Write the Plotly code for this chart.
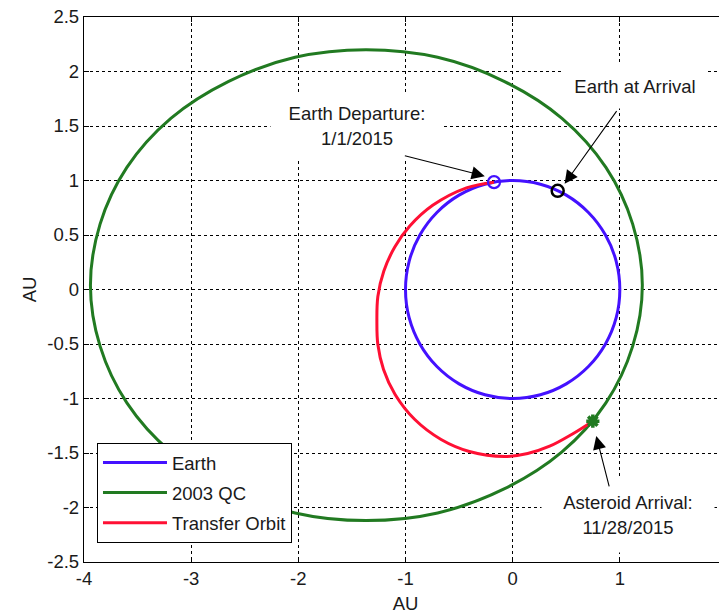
import plotly.graph_objects as go

# ---- data (AU) ----
earth_x = [1.0, 0.966, 0.866, 0.707, 0.5, 0.259, 0.0, -0.259, -0.5, -0.707, -0.866, -0.966,
           -1.0, -0.966, -0.866, -0.707, -0.5, -0.259, 0.0, 0.259, 0.5, 0.707, 0.866, 0.966, 1.0]
earth_y = [0.0, 0.259, 0.5, 0.707, 0.866, 0.966, 1.0, 0.966, 0.866, 0.707, 0.5, 0.259,
           0.0, -0.259, -0.5, -0.707, -0.866, -0.966, -1.0, -0.966, -0.866, -0.707, -0.5, -0.259, 0.0]

qc_x = [1.21, 1.12, 0.87, 0.46, -0.08, -0.70, -1.37, -2.03, -2.65, -3.19, -3.60, -3.85,
        -3.94, -3.85, -3.60, -3.19, -2.65, -2.03, -1.37, -0.70, -0.08, 0.46, 0.87, 1.12, 1.21]
qc_y = [0.04, 0.60, 1.12, 1.57, 1.91, 2.13, 2.20, 2.13, 1.91, 1.57, 1.12, 0.60,
        0.04, -0.52, -1.04, -1.49, -1.83, -2.05, -2.12, -2.05, -1.83, -1.49, -1.04, -0.52, 0.04]

transfer_x = [-0.174, -0.431, -0.746, -0.960, -1.100, -1.202, -1.258, -1.267, -1.258, -1.205,
              -1.097, -0.913, -0.668, -0.404, -0.075, 0.140, 0.345, 0.55, 0.748]
transfer_y = [0.985, 0.932, 0.772, 0.582, 0.390, 0.169, -0.064, -0.294, -0.505, -0.734,
              -0.963, -1.193, -1.376, -1.486, -1.532, -1.505, -1.438, -1.33, -1.208]

departure_pt = (-0.174, 0.985)
earth_arrival_pt = (0.42, 0.905)
asteroid_arrival_pt = (0.748, -1.208)

x_ticks = [-4, -3, -2, -1, 0, 1, 2]
y_ticks = [-2.5, -2, -1.5, -1, -0.5, 0, 0.5, 1, 1.5, 2, 2.5]
y_tick_text = ["-2.5", "-2", "-1.5", "-1", "-0.5", "0", "0.5", "1", "1.5", "2", "2.5"]

# ---- styles ----
C_EARTH = "#4411ff"
C_QC = "#217a21"
C_TRANSFER = "#ff1034"
FONT = "Liberation Sans, Arial, sans-serif"
FS = 18.5
TXT = "#1a1a1a"

fig = go.Figure()
fig.add_trace(go.Scatter(x=earth_x, y=earth_y, mode="lines", name="Earth", legendgroup="g1",
                         line=dict(color=C_EARTH, width=3, shape="spline")))
fig.add_trace(go.Scatter(x=qc_x, y=qc_y, mode="lines", name="2003 QC", legendgroup="g2",
                         line=dict(color=C_QC, width=3, shape="spline")))
fig.add_trace(go.Scatter(x=transfer_x, y=transfer_y, mode="lines", name="Transfer Orbit", legendgroup="g3",
                         line=dict(color=C_TRANSFER, width=3, shape="spline")))

fig.add_trace(go.Scatter(x=[departure_pt[0]], y=[departure_pt[1]], mode="markers", showlegend=False,
                         marker=dict(symbol="circle-open", size=12, color=C_EARTH, line=dict(width=2.2, color=C_EARTH))))
fig.add_trace(go.Scatter(x=[earth_arrival_pt[0]], y=[earth_arrival_pt[1]], mode="markers", showlegend=False,
                         marker=dict(symbol="circle-open", size=12, color="black", line=dict(width=2.5, color="black"))))
fig.add_trace(go.Scatter(x=[asteroid_arrival_pt[0]], y=[asteroid_arrival_pt[1]], mode="markers", showlegend=False,
                         marker=dict(symbol="asterisk-open", size=11, color=C_QC, line=dict(width=3.5, color=C_QC))))

annotations = []
# text boxes (white background hides grid)
annotations.append(dict(x=-1.45, y=1.50, xref="x", yref="y", text="Earth Departure:<br>1/1/2015",
                        showarrow=False, bgcolor="white", width=170, height=62, align="center",
                        font=dict(family=FONT, size=FS, color=TXT)))
annotations.append(dict(x=1.137, y=1.87, xref="x", yref="y", text="Earth at Arrival",
                        showarrow=False, bgcolor="white", width=140, height=42, align="center",
                        font=dict(family=FONT, size=FS, color=TXT)))
annotations.append(dict(x=1.072, y=-2.07, xref="x", yref="y", text="Asteroid Arrival:<br>11/28/2015",
                        showarrow=False, bgcolor="white", width=170, height=72, align="center",
                        font=dict(family=FONT, size=FS, color=TXT)))
# arrows
arrow_style = dict(showarrow=True, arrowhead=2, arrowsize=2.4, arrowwidth=1.1, arrowcolor="black",
                   text="", xref="x", yref="y", axref="x", ayref="y", standoff=0, startstandoff=0)
annotations.append(dict(x=-0.26, y=1.04, ax=-1.02, ay=1.23, **arrow_style))
annotations.append(dict(x=0.485, y=0.97, ax=0.98, ay=1.65, **arrow_style))
annotations.append(dict(x=0.78, y=-1.345, ax=0.904, ay=-1.82, **arrow_style))

axis_common = dict(
    showgrid=True, gridcolor="black", gridwidth=1, griddash="3px,3px",
    zeroline=False, showline=True, linecolor="black", linewidth=1.3,
    ticks="inside", ticklen=5, tickwidth=1, tickcolor="black",
    tickfont=dict(family=FONT, size=FS, color=TXT),
    ticklabeloverflow="allow",
)

fig.update_layout(
    width=719, height=606,
    margin=dict(l=76, r=0, t=9, b=52, autoexpand=False),
    paper_bgcolor="white", plot_bgcolor="white",
    font=dict(family=FONT, size=FS, color=TXT),
    xaxis=dict(range=[-4, 2], tickvals=x_ticks, ticktext=[str(v) for v in x_ticks], mirror="ticks",
               title=dict(text="AU", font=dict(family=FONT, size=FS, color=TXT), standoff=8),
               **axis_common),
    yaxis=dict(range=[-2.5, 2.5], tickvals=y_ticks, ticktext=y_tick_text, mirror=False,
               title=dict(text="AU", font=dict(family=FONT, size=FS, color=TXT), standoff=5),
               **axis_common),
    legend=dict(x=0.0202, y=0.2183, xanchor="left", yanchor="top", bgcolor="white",
                bordercolor="black", borderwidth=1, font=dict(family=FONT, size=FS, color=TXT),
                itemwidth=64, tracegroupgap=3, traceorder="grouped"),
    annotations=annotations,
    showlegend=True,
)

fig.write_html("out.html")
